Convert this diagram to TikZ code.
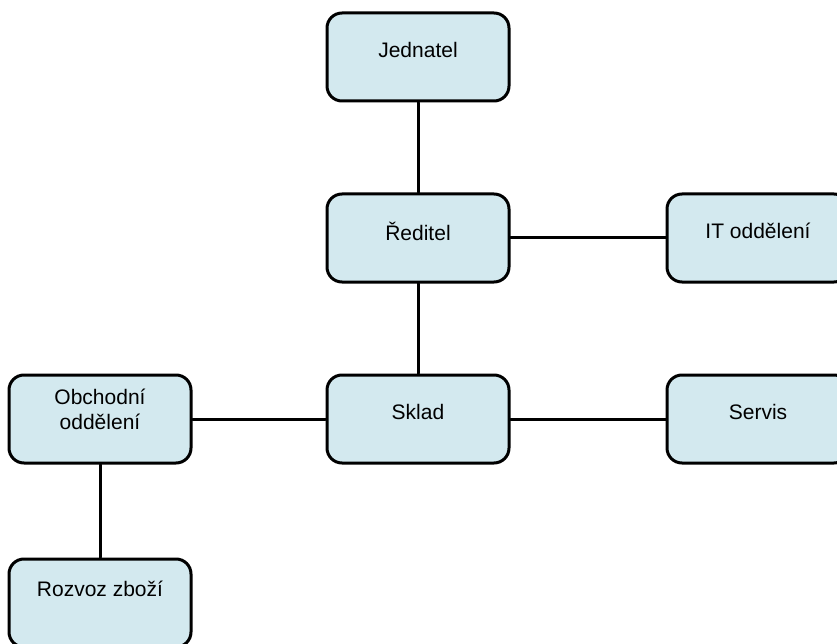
\documentclass[tikz,border=0pt]{standalone}
\usepackage{fontspec}
\setmainfont{Liberation Sans}
\definecolor{boxblue}{RGB}{211,233,239}

\begin{document}
\begin{tikzpicture}[line cap=round,line join=round,x=1pt,y=-1pt,
  unit/.style={draw,line width=3pt,rounded corners=15pt,fill=boxblue,minimum width=182pt,minimum height=88pt,inner sep=0pt},
  lbl/.style={font=\fontsize{21}{25}\selectfont,align=center,yshift=7pt},
  link/.style={line width=3pt}]
\clip(0,0) rectangle (837,644);
\node[unit,label={[lbl]center:Jednatel}] (jednatel) at (418,57) {};
\node[unit,label={[lbl]center:Ředitel}] (reditel) at (418,238) {};
\node[unit,label={[lbl]center:IT oddělení}] (it) at (758,238) {};
\node[unit,label={[lbl]center:Sklad}] (sklad) at (418,419) {};
\node[unit,label={[lbl]center:Servis}] (servis) at (758,419) {};
\node[unit,label={[lbl,yshift=3pt]center:{Obchodní\\oddělení}}] (obchod) at (100,419) {};
\node[unit,label={[lbl,yshift=7pt]center:Rozvoz zboží}] (rozvoz) at (100,603) {};
% spojnice
\draw[link] (jednatel) -- (reditel);
\draw[link] (reditel) -- (it);
\draw[link] (reditel) -- (sklad);
\draw[link] (sklad) -- (servis);
\draw[link] (obchod) -- (sklad);
\draw[link] (obchod) -- (rozvoz);
\end{tikzpicture}
\end{document}
